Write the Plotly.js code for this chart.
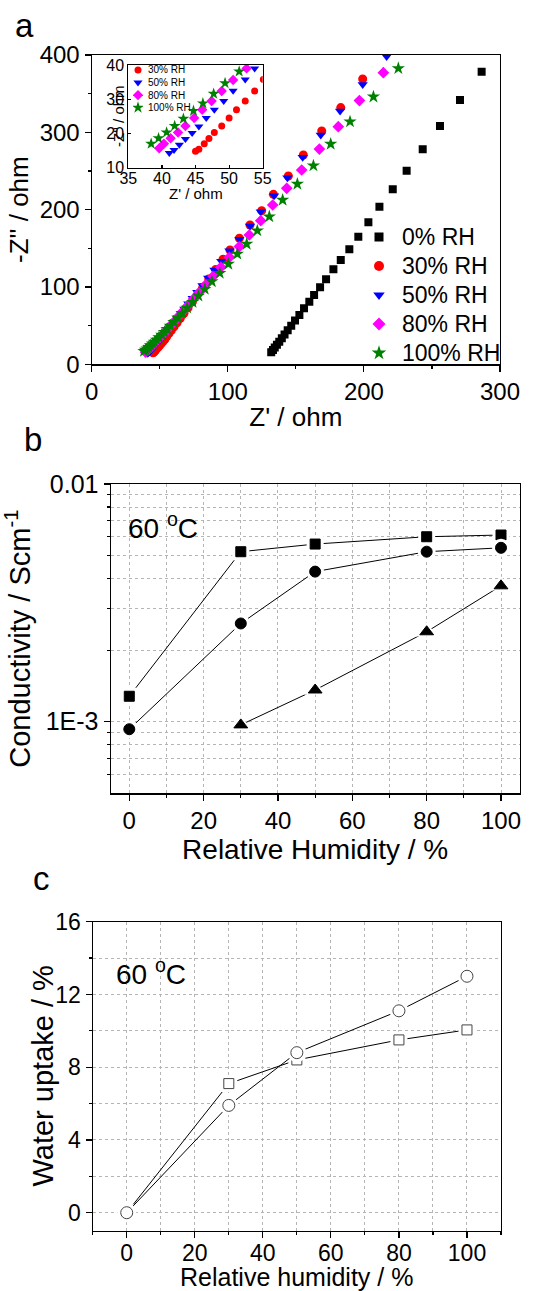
<!DOCTYPE html>
<html>
<head>
<meta charset="utf-8">
<script src="https://cdn.plot.ly/plotly-3.0.1.min.js"></script>
<style>html,body{margin:0;padding:0;background:#fff;}#chart{width:533px;height:1291px;}</style>
</head>
<body>
<div id="chart"></div>
<script>
// ---------- Panel a: Nyquist data (Z' , -Z'') ----------
var namesA = ["0% RH", "30% RH", "50% RH", "80% RH", "100% RH"];
var namesInset = ["30% RH", "50% RH", "80% RH", "100% RH"];

var zre0 = [131.9,133.2,134.5,136.1,137.8,139.7,141.7,144.0,146.6,149.4,152.6,156.0,159.9,163.4,167.8,172.2,177.6,183.0,189.3,195.9,203.3,211.4,221.2,231.4,243.2,255.9,270.6,286.5];
var zim0 = [15.5,18.4,21.6,25.2,29.2,33.6,38.5,43.9,49.9,56.5,63.8,72.4,81.0,89.7,99.6,109.9,122.8,135.0,148.7,165.1,183.6,203.9,226.3,250.4,278.0,308.2,341.8,378.4];

var zre30 = [45.0,45.5,46.3,47.0,47.8,48.9,50.0,51.1,52.4,53.8,55.1,56.7,58.5,60.5,62.7,65.1,67.8,70.8,74.0,77.6,81.6,86.0,91.0,96.5,101.6,108.5,116.3,124.9,133.5,144.5,155.5,169.0,183.0,199.1];
var zim30 = [14.8,15.4,17.0,18.5,20.3,22.2,24.5,26.9,29.5,32.4,35.8,39.6,43.8,48.5,53.7,59.5,65.9,73.0,80.9,89.7,99.5,110.4,122.5,135.9,147.8,163.0,180.2,198.7,219.8,243.5,270.7,301.7,332.0,369.0];

var zre50 = [41.1,41.8,42.6,43.5,44.5,45.5,46.6,47.8,49.2,50.6,52.4,53.8,55.3,57.0,58.8,60.9,63.1,65.5,68.1,71.0,74.2,77.6,81.4,85.6,90.2,95.2,101.2,108.5,116.3,124.2,134.0,143.8,155.0,168.3,182.5,199.1,216.7];
var zim50 = [14.3,15.2,16.7,18.4,20.1,22.0,24.5,26.9,29.5,32.5,35.8,39.0,42.5,46.3,50.5,55.1,60.1,65.6,71.6,78.2,85.4,93.3,102.0,111.5,121.9,133.3,147.0,161.6,178.9,197.4,218.1,241.4,267.7,296.6,327.6,362.0,398.0];

var zre80 = [39.6,40.3,41.3,42.4,43.5,44.8,46.0,47.4,48.9,50.6,52.6,55.2,57.8,60.7,63.7,67.1,70.8,74.8,79.2,84.0,89.2,94.9,101.2,108.5,115.8,124.2,133.0,143.3,154.3,167.3,181.2,196.7,214.3];
var zim80 = [15.7,17.0,18.6,20.3,22.2,24.5,26.9,29.5,32.4,35.6,39.0,44.4,49.7,55.5,61.8,68.7,76.2,84.4,93.4,103.2,113.9,125.6,138.4,152.2,167.2,185.8,206.0,227.6,251.3,278.4,307.3,341.0,377.2];

var zre100 = [38.4,39.5,40.7,41.9,43.2,44.7,46.1,47.7,49.4,51.5,53.4,55.4,57.7,60.4,63.3,66.5,70.1,74.1,78.4,83.1,88.3,94.1,100.4,107.0,113.9,121.7,130.5,140.3,151.1,162.9,175.6,189.8,207.0,225.3];
var zim100 = [17.0,18.6,20.3,22.2,24.3,26.6,28.8,31.6,34.7,38.1,41.5,45.3,49.6,54.6,60.1,66.2,72.9,80.3,88.4,97.3,107.1,117.9,129.7,142.7,155.6,172.8,191.0,212.5,233.2,256.9,284.9,313.8,346.0,382.8];

// ---------- Panel b: conductivity vs RH (60 °C) ----------
var rhB = [0, 30, 50, 80, 100];
var sigmaSquare = [1.28e-3, 5.19e-3, 5.59e-3, 6.00e-3, 6.10e-3];
var sigmaCircle = [9.3e-4, 2.59e-3, 4.28e-3, 5.19e-3, 5.39e-3];
var rhBTri = [30, 50, 80, 100];
var sigmaTriangle = [9.7e-4, 1.36e-3, 2.39e-3, 3.73e-3];
var yTickValsB = [0.001, 0.01];
var yTickTextB = ["1E-3", "0.01"];
var yMinorValsB = [6e-4, 7e-4, 8e-4, 9e-4, 2e-3, 3e-3, 4e-3, 5e-3, 6e-3, 7e-3, 8e-3, 9e-3];

// ---------- Panel c: water uptake vs RH (60 °C) ----------
var rhC = [0, 30, 50, 80, 100];
var wuCircle = [0, 5.9, 8.8, 11.1, 13.0];
var wuSquare = [0, 7.1, 8.4, 9.5, 10.05];

// ---------- helpers (layout positions in px) ----------
var W = 533, H = 1291;
function dX(a, b) { return [a / W, b / W]; }
function dY(top, bottom) { return [1 - bottom / H, 1 - top / H]; }
function px(x) { return x / W; }
function py(y) { return 1 - y / H; }

var FONT = "Liberation Sans, Arial, Helvetica, sans-serif";
var colA = ["#000000", "#FF0000", "#0000FF", "#FF00FF", "#008000"];
var symA = ["square", "circle", "triangle-down", "diamond", "star"];
var sizeA = [8, 9, 9, 9, 10];
var sizeInset = [7, 8, 8, 9];
var xsA = [zre0, zre30, zre50, zre80, zre100];
var ysA = [zim0, zim30, zim50, zim80, zim100];

var traces = [];
// main Nyquist
for (var i = 0; i < 5; i++) {
  traces.push({type: "scatter", mode: "markers", x: xsA[i], y: ysA[i], xaxis: "x", yaxis: "y",
    name: namesA[i], showlegend: false,
    marker: {symbol: symA[i], color: colA[i], size: sizeA[i], line: {width: 0}}});
}
// inset
for (var j = 1; j < 5; j++) {
  traces.push({type: "scatter", mode: "markers", x: xsA[j], y: ysA[j], xaxis: "x2", yaxis: "y2",
    name: namesA[j], showlegend: false,
    marker: {symbol: symA[j], color: colA[j], size: sizeInset[j - 1], line: {width: 0}}});
}
// main legend symbols (category axis)
for (var k = 0; k < 5; k++) {
  traces.push({type: "scatter", mode: "markers", x: [0], y: [namesA[k]], xaxis: "x3", yaxis: "y3",
    showlegend: false, hoverinfo: "skip",
    marker: {symbol: symA[k], color: colA[k], size: sizeA[k] + 1, line: {width: 0}}});
}
// inset legend symbols
for (var m = 0; m < 4; m++) {
  traces.push({type: "scatter", mode: "markers", x: [0], y: [namesInset[m]], xaxis: "x4", yaxis: "y4",
    showlegend: false, hoverinfo: "skip",
    marker: {symbol: symA[m + 1], color: colA[m + 1], size: sizeInset[m], line: {width: 0}}});
}

// line + gap mask + marker for panels b and c
function gapped(x, y, xa, ya, symbol, size, fill, edge) {
  traces.push({type: "scatter", mode: "lines", x: x, y: y, xaxis: xa, yaxis: ya, showlegend: false,
    line: {color: "#000", width: 1}, hoverinfo: "skip"});
  traces.push({type: "scatter", mode: "markers", x: x, y: y, xaxis: xa, yaxis: ya, showlegend: false,
    marker: {symbol: symbol, size: size + 7, color: "#ffffff", line: {width: 0}}, hoverinfo: "skip"});
  traces.push({type: "scatter", mode: "markers", x: x, y: y, xaxis: xa, yaxis: ya, showlegend: false,
    marker: {symbol: symbol, size: size, color: fill, line: {color: edge, width: 1}}});
}
gapped(rhB, sigmaSquare, "x5", "y5", "square", 10, "#000", "#000");
gapped(rhB, sigmaCircle, "x5", "y5", "circle", 11, "#000", "#000");
gapped(rhBTri, sigmaTriangle, "x5", "y5", "triangle-up", 12, "#000", "#000");
gapped(rhC, wuSquare, "x6", "y6", "square", 10, "#fff", "#444");
gapped(rhC, wuCircle, "x6", "y6", "circle", 12, "#fff", "#444");

var axBase = {showline: true, linecolor: "#000", linewidth: 1.2, mirror: true, zeroline: false,
  showgrid: false, ticks: "outside", tickcolor: "#000", tickwidth: 1.2, ticklen: 6, fixedrange: true,
  tickfont: {family: FONT, size: 24, color: "#000"}};
function ax(o) { var r = {}; for (var a in axBase) r[a] = axBase[a]; for (var b in o) r[b] = o[b]; return r; }
var gridCol = "#b5b5b5";

var layout = {
  width: W, height: H, margin: {l: 0, r: 0, t: 0, b: 0},
  paper_bgcolor: "#ffffff", plot_bgcolor: "rgba(0,0,0,0)",
  font: {family: FONT, color: "#000"}, showlegend: false,
  // panel a
  xaxis: ax({domain: dX(91.7, 500), anchor: "y", range: [0, 300], dtick: 100, tick0: 0,
    minor: {dtick: 50, tick0: 0, ticks: "outside", ticklen: 3, tickcolor: "#000"},
    title: {text: "Z' / ohm", font: {size: 26}, standoff: 3}}),
  yaxis: ax({domain: dY(55, 364.3), anchor: "x", range: [0, 400], dtick: 100, tick0: 0,
    minor: {dtick: 50, tick0: 0, ticks: "outside", ticklen: 3, tickcolor: "#000"},
    title: {text: "-Z'' / ohm", font: {size: 26}, standoff: 3}}),
  // inset
  xaxis2: ax({domain: dX(128.3, 262.7), anchor: "y2", range: [35, 55], dtick: 5, tick0: 35,
    ticks: "inside", ticklen: 3, ticklabelstandoff: -4,
    tickfont: {family: FONT, size: 16, color: "#000"}, linewidth: 1}),
  yaxis2: ax({domain: dY(65, 167.7), anchor: "x2", range: [10, 40], dtick: 10, tick0: 10,
    ticks: "inside", ticklen: 3,
    tickfont: {family: FONT, size: 16, color: "#000"}, linewidth: 1}),
  // main legend
  xaxis3: {domain: dX(369, 389), anchor: "y3", range: [-1, 1], visible: false, fixedrange: true},
  yaxis3: {domain: dY(222.5, 367.5), anchor: "x3", side: "right", type: "category",
    categoryorder: "array", categoryarray: namesA, range: [4.5, -0.5],
    tickmode: "array", tickvals: namesA, ticktext: namesA,
    showline: false, showgrid: false, zeroline: false, ticks: "", ticklabelstandoff: 12, fixedrange: true,
    tickfont: {family: FONT, size: 23, color: "#000"}},
  // inset legend
  xaxis4: {domain: dX(133, 143), anchor: "y4", range: [-1, 1], visible: false, fixedrange: true},
  yaxis4: {domain: dY(63.7, 113.9), anchor: "x4", side: "right", type: "category",
    categoryorder: "array", categoryarray: namesInset, range: [3.5, -0.5],
    tickmode: "array", tickvals: namesInset, ticktext: namesInset,
    showline: false, showgrid: false, zeroline: false, ticks: "", ticklabelstandoff: 4, fixedrange: true,
    tickfont: {family: FONT, size: 10, color: "#000"}},
  // panel b
  xaxis5: ax({domain: dX(110.7, 519.6), anchor: "y5", range: [-5, 105], dtick: 20, tick0: 0,
    showgrid: true, gridcolor: gridCol, griddash: "dot", gridwidth: 1,
    tickfont: {family: FONT, size: 24, color: "#000"},
    minor: {dtick: 10, tick0: 0, ticks: "outside", ticklen: 3, tickcolor: "#000",
      showgrid: true, gridcolor: gridCol, griddash: "dot", gridwidth: 1},
    title: {text: "Relative Humidity / %", font: {size: 28}, standoff: 4}}),
  yaxis5: ax({domain: dY(484, 793.3), anchor: "x5", type: "log", range: [Math.log10(5e-4), -2],
    tickmode: "array", tickvals: yTickValsB, ticktext: yTickTextB,
    showgrid: true, gridcolor: gridCol, griddash: "dot", gridwidth: 1,
    tickfont: {family: FONT, size: 25, color: "#000"},
    minor: {tickmode: "array", tickvals: yMinorValsB, ticks: "outside", ticklen: 3, tickcolor: "#000",
      showgrid: true, gridcolor: gridCol, griddash: "dot", gridwidth: 1},
    title: {text: "Conductivity / Scm<sup>-1</sup>", font: {size: 29}, standoff: 14}}),
  // panel c
  xaxis6: ax({domain: dX(92.7, 501), anchor: "y6", range: [-10, 110], dtick: 20, tick0: 0,
    tickfont: {family: FONT, size: 23, color: "#000"}, ticklabelstandoff: -5,
    showgrid: true, gridcolor: gridCol, griddash: "dot", gridwidth: 1,
    minor: {dtick: 10, tick0: 0, ticks: "outside", ticklen: 3, tickcolor: "#000",
      showgrid: true, gridcolor: gridCol, griddash: "dot", gridwidth: 1}}),
  yaxis6: ax({domain: dY(921.7, 1230.9), anchor: "x6", range: [-1, 16], dtick: 4, tick0: 0,
    tickfont: {family: FONT, size: 23, color: "#000"},
    showgrid: true, gridcolor: gridCol, griddash: "dot", gridwidth: 1,
    minor: {dtick: 2, tick0: 0, ticks: "outside", ticklen: 3, tickcolor: "#000",
      showgrid: true, gridcolor: gridCol, griddash: "dot", gridwidth: 1}}),
  annotations: [
    {xref: "paper", yref: "paper", x: px(24), y: py(25), text: "a", showarrow: false,
      xanchor: "center", yanchor: "middle", font: {size: 33}},
    {xref: "paper", yref: "paper", x: px(33), y: py(439), text: "b", showarrow: false,
      xanchor: "center", yanchor: "middle", font: {size: 33}},
    {xref: "paper", yref: "paper", x: px(41), y: py(879), text: "c", showarrow: false,
      xanchor: "center", yanchor: "middle", font: {size: 33}},
    {xref: "paper", yref: "paper", x: px(195.5), y: py(193), text: "Z' / ohm", showarrow: false,
      xanchor: "center", yanchor: "middle", font: {size: 15}},
    {xref: "paper", yref: "paper", x: px(118), y: py(116), text: "-Z'' / ohm", showarrow: false,
      textangle: -90, xanchor: "center", yanchor: "middle", font: {size: 15}},
    {xref: "paper", yref: "paper", x: px(42.5), y: py(1076), text: "Water uptake / %", showarrow: false,
      textangle: -90, xanchor: "center", yanchor: "middle", font: {size: 29}},
    {xref: "paper", yref: "paper", x: px(296.8), y: py(1277), text: "Relative humidity / %", showarrow: false,
      xanchor: "center", yanchor: "middle", font: {size: 25}},
    {xref: "paper", yref: "paper", x: px(126), y: py(526), text: "60 <sup>o</sup>C", showarrow: false,
      xanchor: "left", yanchor: "middle", font: {size: 28}},
    {xref: "paper", yref: "paper", x: px(114), y: py(972), text: "60 <sup>o</sup>C", showarrow: false,
      xanchor: "left", yanchor: "middle", font: {size: 28}}
  ]
};

Plotly.newPlot("chart", traces, layout, {displayModeBar: false, staticPlot: true});
</script>
</body>
</html>
